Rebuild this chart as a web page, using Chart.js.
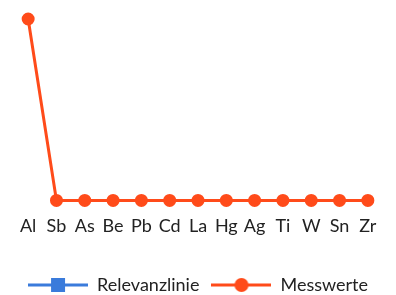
<!DOCTYPE html>
<html>
<head>
<meta charset="utf-8">
<script src="https://cdn.jsdelivr.net/npm/chart.js@4"></script>
<style>
  html, body { margin: 0; padding: 0; background: #fff; }
  #wrap { width: 396px; height: 295px; }
</style>
</head>
<body>
<div id="wrap"><canvas id="myChart"></canvas></div>
<script>
// categories and values
const elements = ["Al", "Sb", "As", "Be", "Pb", "Cd", "La", "Hg", "Ag", "Ti", "W", "Sn", "Zr"];
const messwerte = [100, 0, 0, 0, 0, 0, 0, 0, 0, 0, 0, 0, 0];
const relevanzlinie = [null, null, null, null, null, null, null, null, null, null, null, null, null];

const orange = "#FF4B1A";
const blue = "#3A7BDB";

// legend icon: line with marker in the middle
function legendIcon(color, shape) {
    const c = document.createElement("canvas");
    c.width = 60;
    c.height = 16;
    const ctx = c.getContext("2d");
    ctx.strokeStyle = color;
    ctx.lineWidth = 3;
    ctx.beginPath();
    ctx.moveTo(0, 8);
    ctx.lineTo(60, 8);
    ctx.stroke();
    ctx.fillStyle = color;
    if (shape === "rect") {
        ctx.fillRect(23, 1, 14, 14);
    } else {
        ctx.beginPath();
        ctx.arc(30, 8, 7, 0, Math.PI * 2);
        ctx.fill();
    }
    return c;
}
const icons = [legendIcon(blue, "rect"), legendIcon(orange, "circle")];

const data = {
    labels: elements,
    datasets: [
        {
            label: "Relevanzlinie",
            data: relevanzlinie,
            borderColor: blue,
            backgroundColor: blue,
            pointStyle: "rect",
            borderWidth: 3,
            clip: false,
        },
        {
            label: "Messwerte",
            data: messwerte,
            borderColor: orange,
            backgroundColor: orange,
            borderWidth: 3,
            pointRadius: 5,
            pointHoverRadius: 5,
            clip: false,
        },
    ],
};

const config = {
    type: "line",
    data,
    options: {
        responsive: false,
        animation: false,
        layout: { padding: { left: 14, right: 14, top: 19, bottom: -9 } },
        scales: {
            x: {
                offset: true,
                grid: { display: false },
                border: { display: false },
                ticks: {
                    color: "#222",
                    font: { family: "Lato", size: 18 },
                    padding: 7,
                    autoSkip: false,
                    maxRotation: 0,
                },
            },
            y: {
                display: false,
                min: 0,
                max: 100,
            },
        },
        plugins: {
            tooltip: { enabled: false },
            legend: {
                position: "bottom",
                // empty title only used as spacer above the items
                title: { display: true, text: "", font: { size: 10 }, padding: 4 },
                labels: {
                    color: "#222",
                    font: { family: "Lato", size: 18 },
                    usePointStyle: true,
                    pointStyleWidth: 60,
                    padding: 12,
                    generateLabels: function (chart) {
                        const items = Chart.defaults.plugins.legend.labels.generateLabels(chart);
                        items.forEach(function (it, i) {
                            it.pointStyle = icons[i];
                        });
                        return items;
                    },
                },
            },
        },
    },
};

const canvas = document.getElementById("myChart");
canvas.width = 396;
canvas.height = 295;
var myChart = new Chart(canvas, config);
</script>
</body>
</html>
